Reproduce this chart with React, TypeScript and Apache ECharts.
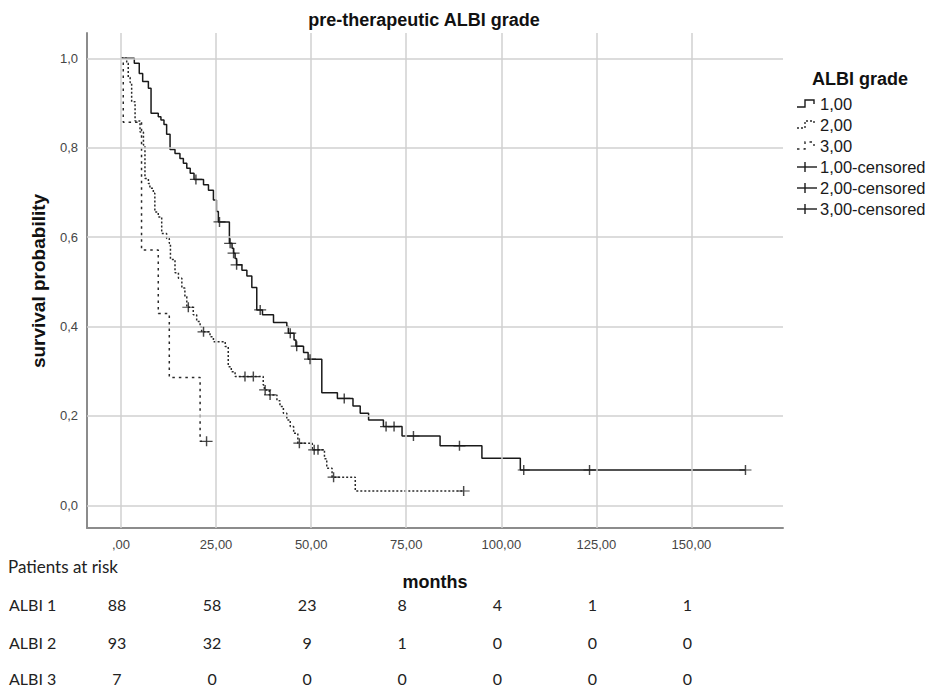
import React, { useEffect, useRef } from "react";
import * as echarts from "echarts";

const xTicks = [0, 25, 50, 75, 100, 125, 150];
const yTicks = [0, 0.2, 0.4, 0.6, 0.8, 1.0];

const albi1Times = [0, 3.5, 4.8, 5.7, 7.2, 7.9, 9.8, 10.5, 11.3, 12.0, 12.9, 14.2, 15.5, 16.4, 17.3, 18.2, 19.2, 21.7, 23.0, 24.3, 25.1, 25.6, 28.5, 29.2, 29.6, 30.0, 30.4, 31.8, 33.1, 34.4, 35.7, 37.2, 40.1, 43.6, 44.0, 45.5, 46.0, 48.0, 49.2, 52.8, 56.9, 61.0, 62.9, 65.1, 69.0, 73.9, 83.9, 94.9, 105.0, 164.2];
const albi1Surv = [1, 0.989, 0.966, 0.948, 0.933, 0.877, 0.869, 0.862, 0.852, 0.83, 0.796, 0.787, 0.776, 0.765, 0.754, 0.743, 0.729, 0.717, 0.705, 0.683, 0.657, 0.634, 0.586, 0.575, 0.564, 0.552, 0.538, 0.526, 0.513, 0.487, 0.437, 0.426, 0.409, 0.4, 0.385, 0.37, 0.356, 0.342, 0.327, 0.252, 0.239, 0.222, 0.206, 0.191, 0.176, 0.155, 0.133, 0.105, 0.079, 0.079];
const albi1CensorTimes = [19.7, 25.9, 28.7, 29.6, 30.4, 36.6, 44.5, 46.2, 49.7, 58.7, 69.7, 71.8, 76.9, 89.0, 105.9, 123.2, 164.2];
const albi1CensorSurv = [0.729, 0.634, 0.586, 0.564, 0.538, 0.437, 0.385, 0.356, 0.327, 0.239, 0.176, 0.176, 0.155, 0.133, 0.079, 0.079, 0.079];

const albi2Times = [0, 1.5, 1.9, 2.4, 2.8, 3.7, 5.0, 5.9, 6.3, 7.2, 7.6, 8.5, 8.9, 9.8, 10.7, 12.0, 12.7, 13.0, 14.2, 15.1, 16.0, 16.8, 17.3, 19.0, 19.9, 20.8, 21.2, 23.4, 24.3, 27.4, 28.2, 29.0, 30.0, 37.4, 37.7, 39.0, 41.0, 41.8, 42.7, 43.6, 44.5, 45.4, 46.5, 50.3, 53.5, 54.1, 55.5, 61.6, 90.1];
const albi2Surv = [1, 0.989, 0.957, 0.946, 0.903, 0.86, 0.835, 0.806, 0.731, 0.72, 0.709, 0.698, 0.656, 0.645, 0.608, 0.597, 0.586, 0.55, 0.52, 0.508, 0.486, 0.467, 0.443, 0.426, 0.411, 0.399, 0.388, 0.377, 0.366, 0.355, 0.31, 0.299, 0.288, 0.269, 0.258, 0.247, 0.234, 0.221, 0.206, 0.191, 0.176, 0.161, 0.139, 0.124, 0.104, 0.083, 0.063, 0.032, 0.032];
const albi2CensorTimes = [17.7, 21.7, 32.6, 34.8, 37.9, 39.2, 46.9, 50.8, 51.8, 55.9, 90.1];
const albi2CensorSurv = [0.443, 0.388, 0.288, 0.288, 0.258, 0.247, 0.139, 0.124, 0.124, 0.063, 0.032];

const albi3Times = [0, 0.6, 5.4, 9.8, 12.7, 20.8, 22.5];
const albi3Surv = [1, 0.857, 0.571, 0.429, 0.286, 0.143, 0.143];
const albi3CensorTimes = [22.5];
const albi3CensorSurv = [0.143];

const legendLabels = ["1,00", "2,00", "3,00", "1,00-censored", "2,00-censored", "3,00-censored"];
const riskRowLabels = ["ALBI 1", "ALBI 2", "ALBI 3"];
const riskAlbi1 = [88, 58, 23, 8, 4, 1, 1];
const riskAlbi2 = [93, 32, 9, 1, 0, 0, 0];
const riskAlbi3 = [7, 0, 0, 0, 0, 0, 0];

const pair = (t: number[], s: number[]) => t.map((v, i) => [v, s[i]]);

export default function App() {
  const ref = useRef<HTMLDivElement>(null);
  useEffect(() => {
    const chart = echarts.init(ref.current!, null, { renderer: "svg" });
    const GL = 87, GT = 33, GW = 696, GH = 495;
    const xMin = -8.94, xMax = 174.07, yMin = -0.0508, yMax = 1.0566;
    const plus = "path://M44,0H56V44H100V56H56V100H44V56H0V44H44Z";
    const ink = "#1a1a1a";
    const dot2 = [2, 2];
    const dash3 = [2.5, 4];
    const sans = "'Liberation Sans', Arial, sans-serif";
    const cal = "Lato, 'Open Sans', sans-serif";
    const option: any = {
      animation: false,
      backgroundColor: "#ffffff",
      grid: { left: GL, top: GT, width: GW, height: GH, containLabel: false },
      xAxis: {
        type: "value", min: xMin, max: xMax,
        axisLine: { show: true, onZero: false, lineStyle: { color: "#8c8c8c", width: 2 } },
        axisTick: { show: false },
        splitLine: { show: false },
        axisLabel: {
          customValues: xTicks, margin: 10, color: "#454545", fontSize: 13, fontFamily: sans,
          formatter: (v: number) => (v === 0 ? ",00" : v.toFixed(2).replace(".", ",")),
        },
      },
      yAxis: {
        type: "value", min: yMin, max: yMax,
        axisLine: { show: true, onZero: false, lineStyle: { color: "#8c8c8c", width: 2 } },
        axisTick: { show: false },
        splitLine: { show: false },
        axisLabel: {
          customValues: yTicks, margin: 9, color: "#454545", fontSize: 13, fontFamily: sans,
          formatter: (v: number) => v.toFixed(1).replace(".", ","),
        },
      },
      series: [
        {
          type: "line", data: [], silent: true, z: 1,
          markLine: {
            silent: true, symbol: ["none", "none"], label: { show: false },
            lineStyle: { color: "#d0d0d0", width: 1.5, type: "solid" },
            emphasis: { disabled: true },
            data: [...xTicks.map((v) => ({ xAxis: v })), ...yTicks.map((v) => ({ yAxis: v }))],
          },
        },
        { name: "1,00", type: "line", step: "end", data: pair(albi1Times, albi1Surv), showSymbol: false, z: 4, lineStyle: { color: ink, width: 1.5 } },
        { name: "2,00", type: "line", step: "end", data: pair(albi2Times, albi2Surv), showSymbol: false, z: 3, lineStyle: { color: "#2a2a2a", width: 1.5, type: dot2 } },
        { name: "3,00", type: "line", step: "end", data: pair(albi3Times, albi3Surv), showSymbol: false, z: 3, lineStyle: { color: "#2a2a2a", width: 1.5, type: dash3 } },
        { name: "1,00-censored", type: "scatter", symbol: plus, symbolSize: [12, 10], z: 5, itemStyle: { color: ink }, data: pair(albi1CensorTimes, albi1CensorSurv) },
        { name: "2,00-censored", type: "scatter", symbol: plus, symbolSize: [12, 10], z: 5, itemStyle: { color: ink }, data: pair(albi2CensorTimes, albi2CensorSurv) },
        { name: "3,00-censored", type: "scatter", symbol: plus, symbolSize: [12, 10], z: 5, itemStyle: { color: ink }, data: pair(albi3CensorTimes, albi3CensorSurv) },
      ],
    };
    chart.setOption(option);

    const px = xTicks.map((v) => chart.convertToPixel({ xAxisIndex: 0 }, v) as number);
    const g: any[] = [];
    g.push({ type: "text", x: 424, y: 20, style: { text: "pre-therapeutic ALBI grade", font: `bold 18px ${sans}`, fill: "#111", textAlign: "center", textVerticalAlign: "middle" } });
    g.push({ type: "text", x: 38, y: 281, rotation: Math.PI / 2, style: { text: "survival probability", font: `bold 19px ${sans}`, fill: "#111", textAlign: "center", textVerticalAlign: "middle" } });
    g.push({ type: "text", x: 435, y: 582, style: { text: "months", font: `bold 18px ${sans}`, fill: "#111", textAlign: "center", textVerticalAlign: "middle" } });

    // legend
    g.push({ type: "text", x: 812, y: 79, style: { text: "ALBI grade", font: `bold 18px ${sans}`, fill: "#111", textAlign: "left", textVerticalAlign: "middle" } });
    const lx = 797;
    legendLabels.forEach((lab, i) => {
      const y = 104 + 21 * i;
      if (i < 3) {
        const dash = i === 0 ? null : i === 1 ? dot2 : dash3;
        g.push({ type: "polyline", shape: { points: [[lx, y + 3], [lx + 8, y + 3], [lx + 8, y - 4], [lx + 17, y - 4], [lx + 17, y]] }, style: { stroke: i === 0 ? ink : "#2a2a2a", lineWidth: 1.4, fill: null, lineDash: dash } });
      } else {
        g.push({ type: "line", shape: { x1: lx, y1: y, x2: lx + 20, y2: y }, style: { stroke: ink, lineWidth: 1.4 } });
        g.push({ type: "line", shape: { x1: lx + 8, y1: y - 5, x2: lx + 8, y2: y + 5 }, style: { stroke: ink, lineWidth: 1.4 } });
      }
      g.push({ type: "text", x: 820, y, style: { text: lab, font: `16.5px ${sans}`, fill: "#1a1a1a", textAlign: "left", textVerticalAlign: "middle" } });
    });

    // risk table
    g.push({ type: "text", x: 8, y: 566, style: { text: "Patients at risk", font: `17px ${cal}`, fill: "#222", textAlign: "left", textVerticalAlign: "middle" } });
    const rows = [riskAlbi1, riskAlbi2, riskAlbi3];
    const rowY = [604, 642, 678];
    rows.forEach((vals, r) => {
      g.push({ type: "text", x: 9, y: rowY[r], style: { text: riskRowLabels[r], font: `16px ${cal}`, fill: "#222", textAlign: "left", textVerticalAlign: "middle" } });
      vals.forEach((v, c) => {
        g.push({ type: "text", x: px[c] - 4, y: rowY[r], style: { text: String(v), font: `16px ${cal}`, fill: "#222", textAlign: "center", textVerticalAlign: "middle" } });
      });
    });
    chart.setOption({ graphic: g });
    return () => chart.dispose();
  }, []);
  return <div ref={ref} style={{ position: "absolute", left: 0, top: 0, width: 933, height: 689, background: "#fff" }} />;
}
